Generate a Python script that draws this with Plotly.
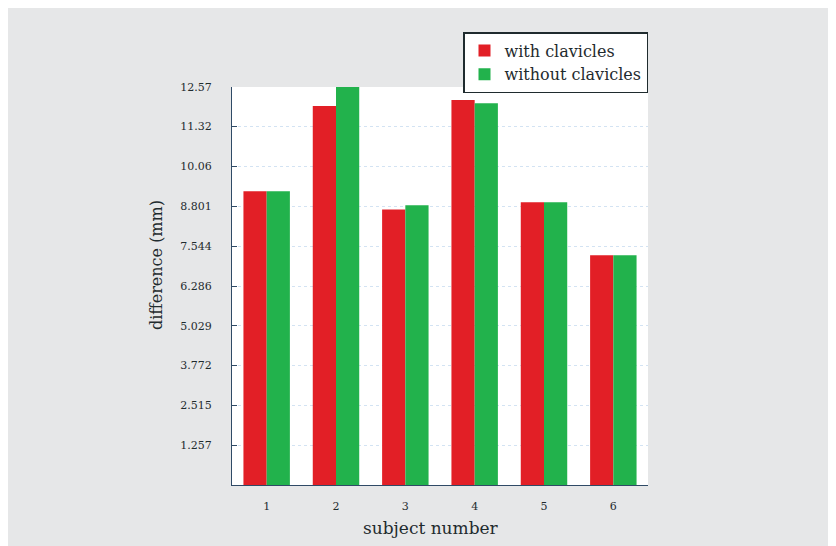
import plotly.graph_objects as go

subjects = ["1", "2", "3", "4", "5", "6"]
with_clavicles = [9.28, 11.97, 8.70, 12.16, 8.93, 7.26]
without_clavicles = [9.28, 12.57, 8.84, 12.06, 8.93, 7.26]
tick_vals = [1.257, 2.515, 3.772, 5.029, 6.286, 7.544, 8.801, 10.06, 11.32, 12.57]
tick_text = ["1.257", "2.515", "3.772", "5.029", "6.286", "7.544", "8.801", "10.06", "11.32", "12.57"]

RED = "#e21f26"
GREEN = "#22b24c"
TXT = "#1f2b2e"
AXIS = "#2f4a66"
SERIF = "DejaVu Serif, Liberation Serif, serif"

fig = go.Figure()
fig.add_trace(go.Bar(x=subjects, y=with_clavicles, name="with clavicles",
                     marker=dict(color=RED, line=dict(width=0))))
fig.add_trace(go.Bar(x=subjects, y=without_clavicles, name="without clavicles",
                     marker=dict(color=GREEN, line=dict(width=0))))

W, H = 836, 546
L, R, T, B = 224, 196, 79, 69
pw, ph = W - L - R, H - T - B

def px(x):
    return (x - L) / pw

def py(y):
    return (H - B - y) / ph

fig.add_annotation(text="subject number", xref="paper", yref="paper",
                   x=px(423), y=py(520), xanchor="center", yanchor="middle",
                   showarrow=False, font=dict(size=17, family=SERIF, color=TXT))
fig.add_annotation(text="difference (mm)", xref="paper", yref="paper",
                   x=px(148), y=py(257), xanchor="center", yanchor="middle",
                   textangle=-90, showarrow=False,
                   font=dict(size=16, family=SERIF, color=TXT))

fig.update_layout(
    width=W, height=H,
    margin=dict(l=L, r=R, t=T, b=B, pad=0),
    paper_bgcolor="#e6e7e8",
    plot_bgcolor="white",
    barmode="group",
    bargap=0.33,
    bargroupgap=0,
    font=dict(family=SERIF, color=TXT),
    showlegend=True,
    legend=dict(
        x=1, xanchor="right", y=py(24), yanchor="top",
        bgcolor="white", bordercolor=TXT, borderwidth=1.5,
        font=dict(size=16, family=SERIF, color=TXT),
        tracegroupgap=0, itemwidth=30,
    ),
    xaxis=dict(
        type="category",
        range=[-0.5, 5.5],
        showline=True, linecolor=AXIS, linewidth=1,
        ticks="outside", ticklen=11, tickcolor="rgba(0,0,0,0)",
        tickfont=dict(size=11, family=SERIF, color=TXT),
        showgrid=False,
    ),
    yaxis=dict(
        range=[0, 12.572],
        tickvals=tick_vals, ticktext=tick_text,
        showline=True, linecolor=AXIS, linewidth=1,
        ticks="inside", ticklen=5, tickcolor=AXIS,
        ticklabelstandoff=17,
        tickfont=dict(size=11, family=SERIF, color=TXT),
        showgrid=True, gridcolor="#d3e3f3", griddash="dot", gridwidth=1,
        zeroline=False,
    ),
)

fig.write_html("out.html")
